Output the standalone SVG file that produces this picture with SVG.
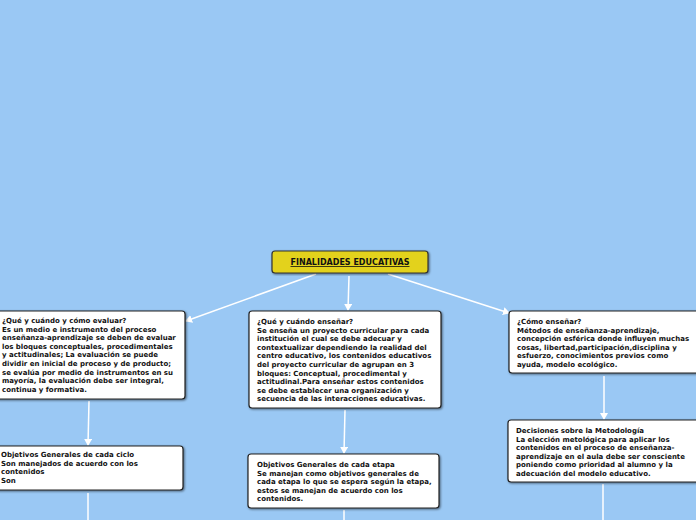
<svg xmlns="http://www.w3.org/2000/svg" width="696" height="520" viewBox="0 0 696 520">
<defs>
<style>
.b{fill:#fff;stroke:#222;stroke-width:1.2}
.t{font-family:"DejaVu Sans",Verdana,sans-serif;font-weight:bold;font-size:7px;fill:#111}
.c{stroke:#fff;stroke-width:1.5;fill:none;marker-end:url(#a)}
.l{stroke:#fff;stroke-width:1.5;fill:none}
</style>
<marker id="a" markerWidth="8" markerHeight="8" refX="6" refY="4" orient="auto" markerUnits="userSpaceOnUse"><path d="M0,0 L7,4 L0,8 Z" fill="#fff"/></marker>
<filter id="s"><feDropShadow dx="1" dy="1" stdDeviation="0.8" flood-opacity="0.5"/></filter>
</defs>
<rect width="696" height="520" fill="#9ac8f4"/>
<g id="connectors">
<line class="c" x1="316" y1="274" x2="186" y2="321"/>
<line class="c" x1="349" y1="276" x2="348" y2="310"/>
<line class="c" x1="388" y1="274" x2="509" y2="313"/>
<line class="c" x1="89" y1="401" x2="88" y2="445"/>
<line class="c" x1="345" y1="410" x2="344" y2="453"/>
<line class="c" x1="604" y1="376" x2="604" y2="419"/>
<line class="l" x1="88" y1="493" x2="88" y2="520"/>
<line class="l" x1="344" y1="510" x2="344" y2="520"/>
<line class="l" x1="603" y1="484" x2="603" y2="520"/>
</g>
<g id="root">
<rect x="272" y="251" width="156" height="22" rx="3" fill="#e3d21c" stroke="#333" stroke-width="1.2" filter="url(#s)"/>
<text x="350" y="265" text-anchor="middle" class="t" style="font-size:8px;text-decoration:underline">FINALIDADES EDUCATIVAS</text>
</g>
<g id="evaluar">
<rect class="b" x="-5" y="311" width="190" height="88" rx="3" filter="url(#s)"/>
<text class="t"><tspan x="2" y="323">¿Qué y cuándo y cómo evaluar?</tspan><tspan x="2" dy="8.6">Es un medio e instrumento del proceso</tspan><tspan x="2" dy="8.6">enseñanza-aprendizaje se deben de evaluar</tspan><tspan x="2" dy="8.6">los bloques conceptuales, procedimentales</tspan><tspan x="2" dy="8.6">y actitudinales; La evaluación se puede</tspan><tspan x="2" dy="8.6">dividir en inicial de proceso y de producto;</tspan><tspan x="2" dy="8.6">se evalúa por medio de instrumentos en su</tspan><tspan x="2" dy="8.6">mayoría, la evaluación debe ser integral,</tspan><tspan x="2" dy="8.6">continua y formativa.</tspan></text>
</g>
<g id="ensenar">
<rect class="b" x="249" y="311" width="192" height="97" rx="3" filter="url(#s)"/>
<text class="t"><tspan x="257" y="324">¿Qué y cuándo enseñar?</tspan><tspan x="257" dy="8.6">Se enseña un proyecto curricular para cada</tspan><tspan x="257" dy="8.6">institución el cual se debe adecuar y</tspan><tspan x="257" dy="8.6">contextualizar dependiendo la realidad del</tspan><tspan x="257" dy="8.6">centro educativo, los contenidos educativos</tspan><tspan x="257" dy="8.6">del proyecto curricular de agrupan en 3</tspan><tspan x="257" dy="8.6">bloques: Conceptual, procedimental y</tspan><tspan x="257" dy="8.6">actitudinal.Para enseñar estos contenidos</tspan><tspan x="257" dy="8.6">se debe establecer una organización y</tspan><tspan x="257" dy="8.6">secuencia de las interacciones educativas.</tspan></text>
</g>
<g id="como">
<rect class="b" x="509" y="311" width="191" height="62" rx="3" filter="url(#s)"/>
<text class="t"><tspan x="517" y="324">¿Cómo enseñar?</tspan><tspan x="517" dy="8.6">Métodos de enseñanza-aprendizaje,</tspan><tspan x="517" dy="8.6">concepción esférica donde influyen muchas</tspan><tspan x="517" dy="8.6">cosas, libertad,participación,disciplina y</tspan><tspan x="517" dy="8.6">esfuerzo, conocimientos previos como</tspan><tspan x="517" dy="8.6">ayuda, modelo ecológico.</tspan></text>
</g>
<g id="metodologia">
<rect class="b" x="508" y="420" width="192" height="62" rx="3" filter="url(#s)"/>
<text class="t"><tspan x="516" y="433">Decisiones sobre la Metodología</tspan><tspan x="516" dy="8.6">La elección metológica para aplicar los</tspan><tspan x="516" dy="8.6">contenidos en el proceso de enseñanza-</tspan><tspan x="516" dy="8.6">aprendizaje en el aula debe ser consciente</tspan><tspan x="516" dy="8.6">poniendo como prioridad al alumno y la</tspan><tspan x="516" dy="8.6">adecuación del modelo educativo.</tspan></text>
</g>
<g id="ciclo">
<rect class="b" x="-5" y="446" width="188" height="44" rx="3" filter="url(#s)"/>
<text class="t"><tspan x="1" y="457">Objetivos Generales de cada ciclo</tspan><tspan x="1" dy="8.6">Son manejados de acuerdo con los</tspan><tspan x="1" dy="8.6">contenidos</tspan><tspan x="1" dy="8.6">Son</tspan></text>
</g>
<g id="etapa">
<rect class="b" x="248" y="454" width="191" height="54" rx="3" filter="url(#s)"/>
<text class="t"><tspan x="257" y="467">Objetivos Generales de  cada etapa</tspan><tspan x="257" dy="8.6">Se manejan como objetivos generales de</tspan><tspan x="257" dy="8.6">cada etapa lo que se espera según la etapa,</tspan><tspan x="257" dy="8.6">estos se manejan de acuerdo con los</tspan><tspan x="257" dy="8.6">contenidos.</tspan></text>
</g>
</svg>
